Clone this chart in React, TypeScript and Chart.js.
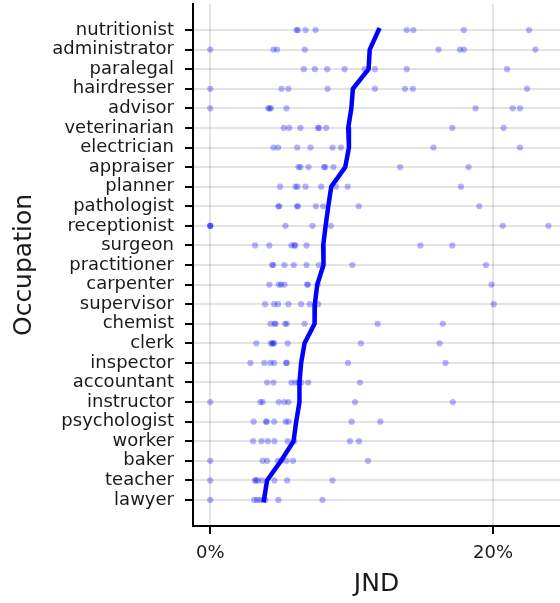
import React, { useEffect, useRef } from "react";
import { Chart, registerables } from "chart.js";

Chart.register(...registerables);

const occupations = [
  "nutritionist", "administrator", "paralegal", "hairdresser", "advisor",
  "veterinarian", "electrician", "appraiser", "planner", "pathologist",
  "receptionist", "surgeon", "practitioner", "carpenter", "supervisor",
  "chemist", "clerk", "inspector", "accountant", "instructor",
  "psychologist", "worker", "baker", "teacher", "lawyer",
];

// individual JND samples (%) per occupation, same order as `occupations`
const jndSamples: number[][] = [
  [6.1, 6.2, 6.74, 7.45, 13.9, 14.37, 17.94, 22.55],
  [0, 4.47, 4.73, 6.69, 16.15, 17.66, 17.94, 23.0],
  [6.62, 7.4, 8.27, 9.5, 10.92, 11.65, 13.9, 21.0],
  [0, 5.04, 5.53, 8.3, 11.65, 13.78, 14.33, 22.41],
  [0, 4.1, 4.2, 4.3, 5.39, 18.77, 21.39, 21.91],
  [5.2, 5.58, 6.38, 7.62, 7.7, 8.2, 17.12, 20.76],
  [4.47, 4.8, 6.15, 7.09, 8.65, 9.24, 15.79, 21.91],
  [6.24, 6.38, 6.95, 8.05, 8.13, 8.72, 13.43, 18.27],
  [4.94, 6.03, 6.17, 6.74, 7.85, 8.89, 9.72, 17.73],
  [4.82, 4.88, 6.14, 6.2, 7.47, 7.99, 10.5, 19.03],
  [0, 0, 0, 5.32, 7.23, 8.53, 20.69, 23.92],
  [3.17, 4.18, 5.74, 5.95, 6.01, 6.81, 14.87, 17.12],
  [4.38, 4.46, 5.25, 5.91, 6.81, 7.68, 10.05, 19.5],
  [4.18, 4.85, 5.01, 5.25, 6.85, 6.91, 7.6, 19.9],
  [3.88, 4.52, 4.8, 5.53, 6.43, 7.04, 7.64, 20.05],
  [4.26, 4.56, 4.62, 5.3, 5.41, 6.67, 11.84, 16.45],
  [3.26, 4.28, 4.4, 4.44, 4.52, 5.48, 10.66, 16.22],
  [2.84, 3.83, 4.26, 4.52, 5.36, 5.42, 9.74, 16.64],
  [4.02, 4.47, 5.74, 6.03, 6.25, 6.45, 6.93, 10.59],
  [0, 3.55, 3.71, 4.85, 5.25, 5.53, 10.24, 17.16],
  [3.07, 3.94, 4.0, 4.52, 5.34, 5.53, 10.0, 12.03],
  [3.03, 3.62, 4.07, 4.54, 5.48, 5.95, 9.88, 10.52],
  [0, 3.71, 4.02, 4.78, 5.01, 5.39, 5.86, 11.16],
  [0, 3.17, 3.21, 3.36, 3.66, 4.54, 5.44, 8.65],
  [0, 3.1, 3.31, 3.52, 3.76, 3.9, 4.82, 7.94],
];

// mean JND (%) per occupation, as drawn by the thick line
const meanJND = [
  11.91, 11.28, 11.2, 10.09, 9.98, 9.76, 9.81, 9.55, 8.56, 8.35,
  8.16, 7.99, 8.01, 7.57, 7.4, 7.38, 6.67, 6.43, 6.31, 6.31,
  6.08, 5.89, 5.01, 4.02, 3.8,
];

const xTicks = [0, 20];

const FONT = "'DejaVu Sans', sans-serif";
const TEXT = "#1a1a1a";

export default function App() {
  const ref = useRef<HTMLCanvasElement | null>(null);

  useEffect(() => {
    if (!ref.current) return;
    const points: { x: number; y: number }[] = [];
    jndSamples.forEach((vals, i) => vals.forEach((v) => points.push({ x: v, y: i })));
    const line = meanJND.map((m, i) => ({ x: m, y: i }));

    const chart = new Chart(ref.current, {
      type: "scatter",
      data: {
        datasets: [
          {
            data: line,
            showLine: true,
            borderColor: "#0000ff",
            borderWidth: 4.5,
            borderCapStyle: "square",
            borderJoinStyle: "round",
            pointRadius: 0,
            order: 0,
          } as any,
          {
            data: points,
            backgroundColor: "rgba(0,0,255,0.3)",
            borderWidth: 0,
            pointRadius: 3.1,
            order: 1,
          },
        ],
      },
      options: {
        animation: false,
        responsive: false,
        devicePixelRatio: 1,
        layout: { autoPadding: false, padding: { top: 4, right: 0, bottom: 0, left: 0 } },
        plugins: { legend: { display: false }, tooltip: { enabled: false } },
        scales: {
          x: {
            type: "linear",
            min: -1.22,
            max: 24.74,
            afterBuildTicks: (axis: any) => {
              axis.ticks = xTicks.map((v) => ({ value: v }));
            },
            afterFit: (s: any) => {
              s.height = 77;
              s.paddingLeft = 0;
              s.paddingRight = 0;
            },
            ticks: {
              callback: (v: any) => `${v}%`,
              font: { family: FONT, size: 18 },
              color: TEXT,
              padding: 9,
              maxRotation: 0,
            },
            grid: {
              color: "rgba(0,0,0,0.11)",
              lineWidth: 2,
              tickColor: "#000",
              tickWidth: 2,
              tickLength: 8,
            },
            border: { color: "#000", width: 2 },
            title: {
              display: true,
              text: "JND",
              font: { family: FONT, size: 25 },
              color: TEXT,
              padding: { top: 0, bottom: 3.6 },
            },
          },
          y: {
            type: "linear",
            reverse: true,
            min: -1.33,
            max: 25.33,
            afterBuildTicks: (axis: any) => {
              axis.ticks = occupations.map((_, i) => ({ value: i }));
            },
            afterFit: (s: any) => {
              s.width = 193;
              s.paddingTop = 0;
              s.paddingBottom = 0;
            },
            ticks: {
              autoSkip: false,
              callback: (v: any) => occupations[v as number] ?? "",
              font: { family: FONT, size: 18 },
              color: TEXT,
              padding: 11,
            },
            grid: {
              color: "rgba(0,0,0,0.11)",
              lineWidth: 2,
              tickColor: "#000",
              tickWidth: 2,
              tickLength: 8,
            },
            border: { color: "#000", width: 2 },
            title: {
              display: true,
              text: "Occupation",
              font: { family: FONT, size: 25 },
              color: TEXT,
              padding: { top: 9, bottom: 0 },
            },
          },
        },
      },
    });
    return () => chart.destroy();
  }, []);

  return (
    <div style={{ position: "absolute", left: 0, top: 0, width: 560, height: 603, background: "#fff" }}>
      <canvas ref={ref} width={560} height={603} style={{ width: 560, height: 603, display: "block" }} />
    </div>
  );
}
